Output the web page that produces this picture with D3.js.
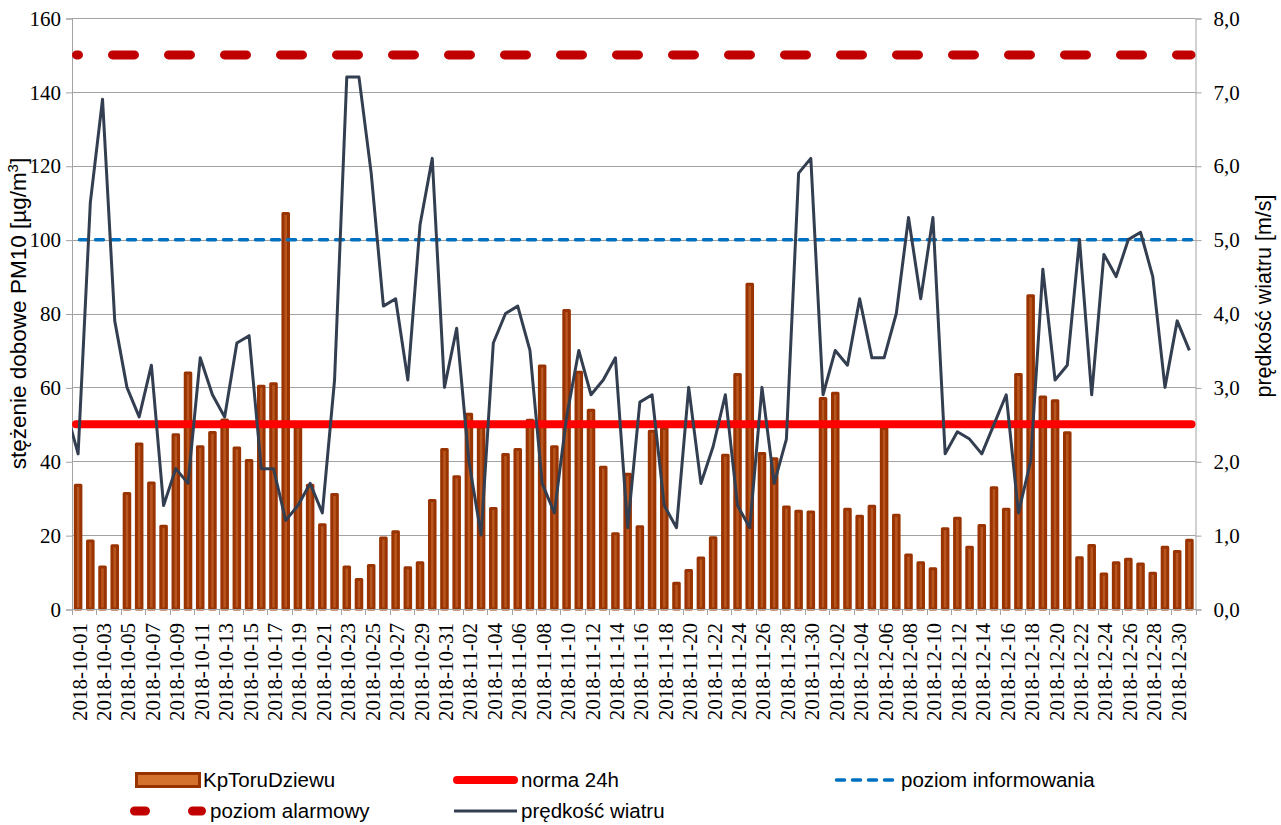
<!DOCTYPE html>
<html>
<head>
<meta charset="utf-8">
<script src="https://d3js.org/d3.v7.min.js"></script>
<style>
  body { margin: 0; background: #fff; }
  .tick text { font-family: "Liberation Serif", "Times New Roman", serif; font-size: 21px; fill: #000; }
  .title, .legend text { font-family: "Liberation Sans", Arial, sans-serif; fill: #000; }
</style>
</head>
<body>
<div id="chartContainer"></div>
<script>
// --- data ---------------------------------------------------------------
var firstDay = new Date(2018, 9, 1), lastDay = new Date(2018, 11, 31);
var days = d3.timeDay.range(firstDay, d3.timeDay.offset(lastDay, 1)).map(d3.timeFormat("%Y-%m-%d"));

// PM10 daily concentration, KpToruDziewu [ug/m3]
var pm10Oct = [33.9, 18.8, 11.8, 17.5, 31.7, 45.1, 34.5, 22.8, 47.6, 64.3,
               44.3, 48.2, 51.6, 44.0, 40.6, 60.7, 61.4, 107.5, 49.7, 33.9,
               23.2, 31.4, 11.8, 8.4, 12.2, 19.6, 21.3, 11.6, 12.9, 29.8, 43.6];
var pm10Nov = [36.2, 53.1, 49.7, 27.6, 42.2, 43.6, 51.5, 66.2, 44.3, 81.2,
               64.5, 54.2, 38.8, 20.8, 36.9, 22.7, 48.5, 49.3, 7.4, 10.8,
               14.2, 19.7, 42.0, 63.9, 88.3, 42.5, 41.1, 28.0, 26.9, 26.7];
var pm10Dec = [57.4, 58.8, 27.4, 25.5, 28.2, 49.3, 25.8, 15.0, 12.9, 11.3,
               22.1, 25.0, 17.1, 23.0, 33.2, 27.4, 63.9, 85.2, 57.8, 56.8,
               48.1, 14.3, 17.6, 9.9, 12.9, 13.9, 12.6, 10.1, 17.1, 16.0, 19.0];

// wind speed [m/s]
var windBefore = 2.7; // 2018-09-30, only the clipped stub at the left edge
var windOct = [2.1, 5.5, 6.9, 3.9, 3.0, 2.6, 3.3, 1.4, 1.9, 1.7,
               3.4, 2.9, 2.6, 3.6, 3.7, 1.9, 1.9, 1.2, 1.4, 1.7,
               1.3, 3.1, 7.2, 7.2, 5.9, 4.1, 4.2, 3.1, 5.2, 6.1, 3.0];
var windNov = [3.8, 2.0, 1.0, 3.6, 4.0, 4.1, 3.5, 1.7, 1.3, 2.6,
               3.5, 2.9, 3.1, 3.4, 1.1, 2.8, 2.9, 1.4, 1.1, 3.0,
               1.7, 2.2, 2.9, 1.4, 1.1, 3.0, 1.7, 2.3, 5.9, 6.1];
var windDec = [2.9, 3.5, 3.3, 4.2, 3.4, 3.4, 4.0, 5.3, 4.2, 5.3,
               2.1, 2.4, 2.3, 2.1, 2.5, 2.9, 1.3, 2.0, 4.6, 3.1,
               3.3, 5.0, 2.9, 4.8, 4.5, 5.0, 5.1, 4.5, 3.0, 3.9, 3.5];

// limit levels
var normaLevel = 50, infoLevel = 100, alarmLevel = 150;
var yTicks = [0, 20, 40, 60, 80, 100, 120, 140, 160];
var y2Ticks = [0, 1, 2, 3, 4, 5, 6, 7, 8];

var pm10 = pm10Oct.concat(pm10Nov, pm10Dec);
var wind = windOct.concat(windNov, windDec);

// --- chart --------------------------------------------------------------
var W = 1281, H = 825;
var pLeft = 72, pRight = 1195.5, pTop = 18, pBottom = 609;

var svg = d3.select("#chartContainer").append("svg").attr("width", W).attr("height", H);

var x = d3.scaleBand().domain(days).range([pLeft, pRight]);
var step = x.step();
var y = d3.scaleLinear().domain([0, 160]).range([pBottom, pTop]);
var y2 = d3.scaleLinear().domain([0, 8]).range([pBottom, pTop]);

svg.append("clipPath").attr("id", "plotClip")
  .append("rect").attr("x", pLeft).attr("y", pTop).attr("width", pRight - pLeft).attr("height", pBottom - pTop);

// gridlines
svg.append("g").selectAll("line").data(yTicks).join("line")
  .attr("x1", pLeft).attr("x2", pRight)
  .attr("y1", d => Math.round(y(d)) + 0.5).attr("y2", d => Math.round(y(d)) + 0.5)
  .attr("stroke", "#a3a3a3").attr("stroke-width", 1);

// left axis
var yAxis = svg.append("g").attr("transform", "translate(" + pLeft + ",0.5)")
  .call(d3.axisLeft(y).tickValues(yTicks).tickSize(6).tickPadding(5).tickFormat(d3.format("d")));
// right axis
var y2Axis = svg.append("g").attr("transform", "translate(" + pRight + ",0.5)")
  .call(d3.axisRight(y2).tickValues(y2Ticks).tickSize(6).tickPadding(12)
    .tickFormat(d => d.toFixed(1).replace(".", ",")));
[yAxis, y2Axis].forEach(function(a) {
  a.select(".domain").attr("stroke", "#a3a3a3");
  a.selectAll(".tick line").attr("stroke", "#a3a3a3");
});

// bars: brown outline, lighter core
var bw = step * 0.7;
svg.append("g").selectAll("rect").data(pm10).join("rect")
  .attr("x", (d, i) => x(days[i]) + (step - bw) / 2 + 1.5)
  .attr("y", d => y(d) + 1.5)
  .attr("width", bw - 3)
  .attr("height", d => pBottom - y(d) - 1.5)
  .attr("fill", "#b8561f")
  .attr("stroke", "#993300").attr("stroke-width", 3)
  .attr("stroke-linejoin", "round");

// bottom axis line
svg.append("line").attr("x1", pLeft).attr("x2", pRight).attr("y1", pBottom + 0.5).attr("y2", pBottom + 0.5)
  .attr("stroke", "#a3a3a3");

// x ticks on every second category boundary, labels on every second category
var bounds = days.filter((d, i) => i % 2 === 0).map(d => x(d)).concat([pRight]);
svg.append("g").selectAll("line").data(bounds).join("line")
  .attr("x1", d => Math.round(d) + 0.5).attr("x2", d => Math.round(d) + 0.5)
  .attr("y1", pBottom).attr("y2", pBottom + 6)
  .attr("stroke", "#a3a3a3");

svg.append("g").attr("class", "tick").selectAll("text")
  .data(days.filter((d, i) => i % 2 === 0)).join("text")
  .attr("transform", d => "translate(" + (x(d) + step / 2 + 8.5) + "," + (pBottom + 14) + ") rotate(-90)")
  .attr("text-anchor", "end")
  .text(d => d);

// limit lines
svg.append("line") // norma 24h
  .attr("x1", pLeft + 4).attr("x2", pRight - 4).attr("y1", y(normaLevel)).attr("y2", y(normaLevel))
  .attr("stroke", "#ff0000").attr("stroke-width", 8).attr("stroke-linecap", "round");
svg.append("line") // poziom informowania
  .attr("x1", pLeft + 7.5).attr("x2", pRight - 2).attr("y1", y(infoLevel)).attr("y2", y(infoLevel))
  .attr("stroke", "#0070c0").attr("stroke-width", 3.5).attr("stroke-linecap", "round")
  .attr("stroke-dasharray", "8,8");
svg.append("line") // poziom alarmowy
  .attr("x1", pLeft + 4.5).attr("x2", pRight - 4.5).attr("y1", y(alarmLevel)).attr("y2", y(alarmLevel))
  .attr("stroke", "#c00000").attr("stroke-width", 9).attr("stroke-linecap", "round")
  .attr("stroke-dasharray", "22,34").attr("stroke-dashoffset", 20);

// wind line
var windPts = [[x(days[0]) - step / 2, y2(windBefore)]].concat(
  wind.map((d, i) => [x(days[i]) + step / 2, y2(d)]));
svg.append("path").attr("clip-path", "url(#plotClip)")
  .attr("d", d3.line()(windPts))
  .attr("fill", "none").attr("stroke", "#333f50").attr("stroke-width", 3)
  .attr("stroke-linejoin", "round");

// axis titles
svg.append("text").attr("class", "title")
  .attr("transform", "translate(25.5," + (pTop + pBottom) / 2 + ") rotate(-90)")
  .attr("text-anchor", "middle").style("font-size", "22.5px")
  .html("stężenie dobowe PM10 [µg/m<tspan baseline-shift='super' font-size='15px'>3</tspan>]");
svg.append("text").attr("class", "title")
  .attr("transform", "translate(1271,296) rotate(-90)")
  .attr("text-anchor", "middle").style("font-size", "21.5px")
  .text("prędkość wiatru [m/s]");

// legend
var lg = svg.append("g").attr("class", "legend").style("font-size", "20.5px");
var row1 = 780, row2 = 811;
lg.append("rect").attr("x", 136.5).attr("y", row1 - 6.5).attr("width", 63).attr("height", 13)
  .attr("fill", "#d4732d").attr("stroke", "#993300").attr("stroke-width", 3);
lg.append("text").attr("x", 203).attr("y", row1 + 7).text("KpToruDziewu");
lg.append("line").attr("x1", 457).attr("x2", 514).attr("y1", row1).attr("y2", row1)
  .attr("stroke", "#ff0000").attr("stroke-width", 8).attr("stroke-linecap", "round");
lg.append("text").attr("x", 521).attr("y", row1 + 7).text("norma 24h");
lg.append("line").attr("x1", 836.5).attr("x2", 896.5).attr("y1", row1).attr("y2", row1)
  .attr("stroke", "#0070c0").attr("stroke-width", 3.5).attr("stroke-linecap", "round")
  .attr("stroke-dasharray", "8,8");
lg.append("text").attr("x", 901).attr("y", row1 + 7).text("poziom informowania");
lg.append("line").attr("x1", 134.5).attr("x2", 201.5).attr("y1", row2).attr("y2", row2)
  .attr("stroke", "#c00000").attr("stroke-width", 9).attr("stroke-linecap", "round")
  .attr("stroke-dasharray", "11,47");
lg.append("text").attr("x", 210).attr("y", row2 + 7).text("poziom alarmowy");
lg.append("line").attr("x1", 454).attr("x2", 517).attr("y1", row2).attr("y2", row2)
  .attr("stroke", "#333f50").attr("stroke-width", 3);
lg.append("text").attr("x", 521).attr("y", row2 + 7).text("prędkość wiatru");
</script>
</body>
</html>
